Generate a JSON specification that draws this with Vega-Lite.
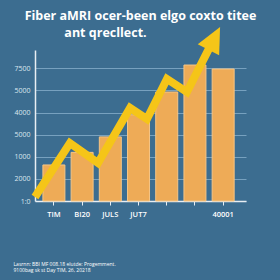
{
  "$schema": "https://vega.github.io/schema/vega-lite/v6.json",
  "width": 211,
  "height": 151,
  "autosize": {"type": "none"},
  "padding": {"left": 35, "top": 50, "right": 34, "bottom": 79},
  "background": "#3c6d90",
  "config": {"view": {"stroke": null}, "font": "Open Sans"},
  "title": {
    "text": ["Fiber aMRI ocer-been elgo coxto titee", "ant qrecllect.\u2800\u2800\u2800\u2800\u2800\u2800\u2800"],
    "color": "#ffffff",
    "font": "Open Sans",
    "fontWeight": "bold",
    "fontSize": 12.5,
    "lineHeight": 17,
    "anchor": "middle",
    "offset": 12,
    "dy": 26
  },
  "datasets": {
    "bars": [
      {"label": "TIM", "value": 1.63},
      {"label": "BI20", "value": 2.2},
      {"label": "JULS", "value": 2.9},
      {"label": "JUT7", "value": 3.9},
      {"label": "E", "value": 4.93},
      {"label": "F", "value": 6.15},
      {"label": "40001", "value": 5.97}
    ],
    "trend": [
      {"pos": 0.0, "value": 0.18},
      {"pos": 1.24, "value": 2.62},
      {"pos": 2.24, "value": 1.72},
      {"pos": 3.38, "value": 4.21},
      {"pos": 3.98, "value": 3.71},
      {"pos": 4.69, "value": 5.52},
      {"pos": 5.40, "value": 4.93},
      {"pos": 6.32, "value": 7.23}
    ],
    "head": [
      {"pos": 6.32, "value": 7.23}
    ]
  },
  "encoding": {
    "y": {
      "field": "value", "type": "quantitative",
      "scale": {"domain": [0, 6.83], "nice": false, "zero": true},
      "axis": {
        "values": [0, 1, 2, 3, 4, 5, 6],
        "labelExpr": "['1:0','2000','1000','5000','4000','5000','7500'][datum.value]",
        "labelColor": "#dbe6ef",
        "labelFontSize": 7,
        "labelPadding": 5,
        "labelOverlap": false,
        "ticks": false,
        "grid": true,
        "gridColor": "#86aecb",
        "gridOpacity": 0.8,
        "gridWidth": 1,
        "domainColor": "#e8eef3",
        "domainWidth": 1.5,
        "title": null
      }
    }
  },
  "layer": [
    {
      "data": {"name": "bars"},
      "mark": {"type": "bar", "color": "#eeab57", "stroke": "#f6c585", "strokeWidth": 1},
      "encoding": {
        "x": {
          "field": "label", "type": "ordinal", "sort": null,
          "scale": {"paddingInner": 0.22, "paddingOuter": 0.35, "align": 0.4},
          "axis": {
            "labelExpr": "datum.value == 'E' || datum.value == 'F' ? '' : datum.value",
            "labelAngle": 0,
            "labelColor": "#ffffff",
            "labelFontSize": 7.5,
            "labelFontWeight": 600,
            "labelPadding": 5,
            "labelOverlap": false,
            "domainColor": "#e8eef3",
            "domainWidth": 1.5,
            "tickColor": "#e8eef3",
            "tickSize": 4,
            "title": ["Lasrnn: BBI MF 008.18 elutde: Progemment.", "9100bag sk st Day TIM, 26, 20218"],
            "titleFontSize": 5,
            "titleFontWeight": "normal",
            "titleColor": "#ffffff",
            "titleAlign": "left",
            "titleAnchor": "start",
            "titleX": -22,
            "titleY": 64,
            "titleBaseline": "alphabetic",
            "titleLineHeight": 6.5
          }
        }
      }
    },
    {
      "data": {"name": "trend"},
      "mark": {"type": "line", "color": "#f5c518", "strokeWidth": 8, "strokeJoin": "miter", "strokeCap": "butt", "clip": false},
      "encoding": {
        "x": {"field": "pos", "type": "quantitative", "scale": {"domain": [0, 7.5], "nice": false}, "axis": null}
      }
    },
    {
      "data": {"name": "head"},
      "mark": {"type": "point", "shape": "M0,-1L0.75,0.6L-0.75,0.6Z", "filled": true, "size": 1024, "angle": 27, "color": "#f5c518", "opacity": 1, "clip": false},
      "encoding": {
        "x": {"field": "pos", "type": "quantitative", "scale": {"domain": [0, 7.5], "nice": false}, "axis": null}
      }
    }
  ],
  "resolve": {"scale": {"x": "independent"}}
}
